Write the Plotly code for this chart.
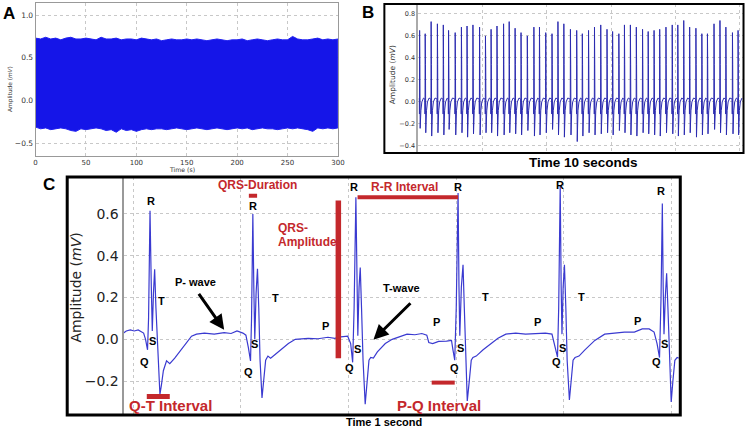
import plotly.graph_objects as go

W, H = 752, 428
def fx(px): return px / W
def fy(py): return 1 - py / H

# ---------------- Panel A : 300 s recording (envelope of the dense trace)
a_time = list(range(0, 305, 5))
a_upper = [0.73, 0.72, 0.74, 0.72, 0.73, 0.71, 0.73, 0.74, 0.72, 0.72, 0.73, 0.72, 0.71, 0.74, 0.72,
           0.72, 0.73, 0.71, 0.72, 0.72, 0.71, 0.73, 0.72, 0.71, 0.72, 0.70, 0.71, 0.72, 0.71, 0.71,
           0.72, 0.71, 0.72, 0.71, 0.70, 0.71, 0.72, 0.71, 0.70, 0.71, 0.71, 0.72, 0.70, 0.71, 0.72,
           0.71, 0.70, 0.71, 0.72, 0.71, 0.71, 0.75, 0.72, 0.71, 0.71, 0.72, 0.73, 0.71, 0.72, 0.71, 0.72]
a_lower = [-0.31, -0.33, -0.32, -0.34, -0.33, -0.32, -0.33, -0.35, -0.36, -0.33, -0.34, -0.33, -0.32,
           -0.33, -0.35, -0.34, -0.37, -0.33, -0.35, -0.34, -0.36, -0.34, -0.33, -0.34, -0.33, -0.33,
           -0.34, -0.33, -0.32, -0.33, -0.34, -0.33, -0.32, -0.33, -0.34, -0.33, -0.32, -0.33, -0.34,
           -0.33, -0.32, -0.33, -0.32, -0.34, -0.33, -0.32, -0.33, -0.33, -0.34, -0.33, -0.32, -0.33,
           -0.32, -0.33, -0.34, -0.36, -0.32, -0.33, -0.32, -0.33, -0.32]
a_xticks = [0, 50, 100, 150, 200, 250, 300]
a_yticks = [-0.5, 0.0, 0.5, 1.0]

# ---------------- Panel B : 10 s excerpt
b_r_times = [0.036, 0.210, 0.395, 0.590, 0.774, 0.938, 1.144, 1.338, 1.513, 1.697, 1.903, 2.087, 2.262,
             2.446, 2.651, 2.826, 3.010, 3.195, 3.390, 3.595, 3.769, 3.964, 4.159, 4.344, 4.528, 4.733,
             4.928, 5.103, 5.297, 5.482, 5.677, 5.872, 6.046, 6.241, 6.415, 6.600, 6.785, 6.979, 7.154,
             7.338, 7.513, 7.708, 7.903, 8.077, 8.262, 8.446, 8.641, 8.826, 9.000, 9.205, 9.390, 9.574,
             9.779, 9.954]
b_r_peaks = [0.65, 0.62, 0.73, 0.71, 0.70, 0.65, 0.63, 0.68, 0.69, 0.70, 0.68, 0.60, 0.66, 0.69, 0.71,
             0.73, 0.67, 0.63, 0.60, 0.68, 0.68, 0.63, 0.62, 0.73, 0.71, 0.66, 0.65, 0.62, 0.65, 0.68,
             0.70, 0.66, 0.64, 0.62, 0.70, 0.70, 0.68, 0.66, 0.64, 0.65, 0.66, 0.68, 0.70, 0.70, 0.74,
             0.68, 0.67, 0.62, 0.62, 0.71, 0.74, 0.68, 0.63, 0.65]
b_troughs = [-0.24, -0.28, -0.31, -0.28, -0.30, -0.25, -0.30, -0.28, -0.32, -0.29, -0.30, -0.28, -0.28,
             -0.31, -0.30, -0.28, -0.29, -0.30, -0.26, -0.31, -0.30, -0.28, -0.25, -0.30, -0.32, -0.30,
             -0.36, -0.31, -0.28, -0.30, -0.29, -0.28, -0.30, -0.26, -0.28, -0.30, -0.31, -0.28, -0.29,
             -0.30, -0.31, -0.28, -0.29, -0.31, -0.30, -0.28, -0.32, -0.30, -0.29, -0.25, -0.28, -0.30,
             -0.29, -0.30]
# one beat (offset from R peak in s, amplitude in mV)
beat_dt = [-0.025, -0.0097, -0.0060, 0.0, 0.0036, 0.0081, 0.0173, 0.0276, 0.040, 0.070, 0.095, 0.120]
beat_mv = [0.03, 0.02, -0.11, "R", 0.02, 0.34, "trough", -0.09, -0.08, 0.0, 0.03, 0.035]
b_yticks = [-0.4, -0.2, 0.0, 0.2, 0.4, 0.6, 0.8]

b_t, b_v = [], []
for rt, rp, tr in zip(b_r_times, b_r_peaks, b_troughs):
    for dt, v in zip(beat_dt, beat_mv):
        b_t.append(rt + dt)
        b_v.append(rp if v == "R" else (tr if v == "trough" else v))

# ---------------- Panel C : 1 s excerpt
c_time = [-0.018, -0.0129, -0.0055, 0.0018, 0.0092, 0.0147, 0.0193, 0.0229, 0.0266, 0.0285, 0.0312,
          0.0336, 0.0354, 0.0376, 0.0398, 0.0422, 0.0450, 0.0477, 0.0496, 0.0523, 0.0560, 0.0619,
          0.0679, 0.0771, 0.0863, 0.0986, 0.1083, 0.1175, 0.1322, 0.1505, 0.1689, 0.1818, 0.1928,
          0.2038, 0.2093, 0.2139, 0.2179, 0.2198, 0.2222, 0.2240, 0.2258, 0.2282, 0.2308, 0.2332,
          0.2356, 0.2392, 0.2423, 0.2460, 0.2502, 0.2552, 0.2625, 0.2735, 0.2882, 0.3011, 0.3249,
          0.3433, 0.3617, 0.3745, 0.3855, 0.3984, 0.4039, 0.4076, 0.4103, 0.4136, 0.4155, 0.4172,
          0.4195, 0.4217, 0.4241, 0.4269, 0.4309, 0.4342, 0.4379, 0.4412, 0.4461, 0.4535, 0.4682,
          0.4810, 0.4957, 0.5086, 0.5232, 0.5361, 0.5453, 0.5490, 0.5563, 0.5673, 0.5820, 0.5912,
          0.5939, 0.5972, 0.6000, 0.6034, 0.6051, 0.6066, 0.6095, 0.6126, 0.6150, 0.6174, 0.6205,
          0.6242, 0.6279, 0.6310, 0.6371, 0.6499, 0.6646, 0.6775, 0.6921, 0.7105, 0.7288, 0.7472,
          0.7656, 0.7778, 0.7830, 0.7881, 0.7903, 0.7931, 0.7949, 0.7964, 0.7986, 0.8010, 0.8036,
          0.8060, 0.8102, 0.8133, 0.8170, 0.8207, 0.8280, 0.8390, 0.8574, 0.8757, 0.8941, 0.9124,
          0.9308, 0.9455, 0.9583, 0.9675, 0.9730, 0.9776, 0.9804, 0.9828, 0.9844, 0.9859, 0.9883,
          0.9908, 0.9932, 0.9960, 0.9993, 1.0024, 1.0061, 1.0103, 1.0134]
c_mv = [0.03, 0.04, 0.045, 0.04, 0.045, 0.038, 0.03, 0.0, -0.05, 0.1, 0.615,
        0.25, 0.04, 0.22, 0.335, 0.15, -0.02, -0.2, -0.263, -0.22, -0.15, -0.103,
        -0.116, -0.09, -0.06, -0.015, 0.015, 0.025, 0.03, 0.025, 0.032, 0.028, 0.04,
        0.03, 0.02, -0.04, -0.103, 0.1, 0.60, 0.25, 0.0, 0.22, 0.338, 0.15,
        -0.1, -0.28, -0.2, -0.1, -0.08, -0.09, -0.075, -0.05, -0.02, 0.0, 0.005,
        0.003, 0.01, 0.005, 0.012, 0.015, -0.02, -0.11, 0.15, 0.68, 0.25, 0.017,
        0.25, 0.344, 0.15, -0.1, -0.31, -0.2, -0.1, -0.087, -0.09, -0.06, -0.02,
        0.0, 0.015, 0.025, 0.022, 0.028, 0.02, -0.015, -0.02, -0.01, -0.008, -0.005,
        -0.05, -0.10, 0.15, 0.70, 0.25, 0.017, 0.25, 0.357, 0.15, -0.1, -0.295,
        -0.2, -0.1, -0.087, -0.08, -0.05, -0.02, 0.005, 0.025, 0.03, 0.025, 0.028,
        0.03, 0.025, -0.03, -0.085, 0.15, 0.735, 0.25, 0.025, 0.25, 0.357, 0.15,
        -0.1, -0.29, -0.2, -0.1, -0.087, -0.08, -0.05, -0.005, 0.025, 0.03, 0.035,
        0.035, 0.05, 0.05, 0.035, -0.02, -0.087, 0.2, 0.65, 0.25, 0.025, 0.2,
        0.316, 0.15, -0.1, -0.30, -0.2, -0.1, -0.087, -0.09]
c_yticks = [-0.2, 0.0, 0.2, 0.4, 0.6]
c_xgrid = [0.0, 0.2, 0.4, 0.6, 0.8, 1.0]

# interval bars in panel C (time s, mV)
qrs_dur_t = [0.2148, 0.2301]; qrs_dur_v = 0.687
qrs_amp_t = 0.381; qrs_amp_v = [-0.09, 0.664]
rr_t = [0.4167, 0.6035]; rr_v = 0.680
qt_t = [0.0252, 0.0679]; qt_v = -0.273
pq_t = [0.5544, 0.5972]; pq_v = -0.207

RED = "#c4282c"
fig = go.Figure()

# Panel A
fig.add_trace(go.Scatter(x=a_time + a_time[::-1], y=a_upper + a_lower[::-1], fill="toself",
                         fillcolor="#1515e8", line=dict(color="#2020f0", width=1),
                         mode="lines", xaxis="x", yaxis="y", showlegend=False, hoverinfo="skip"))
# Panel B
fig.add_trace(go.Scatter(x=b_t, y=b_v, mode="lines", line=dict(color="#2c2cb0", width=1),
                         xaxis="x2", yaxis="y2", showlegend=False, hoverinfo="skip"))
# Panel C
fig.add_trace(go.Scatter(x=c_time, y=c_mv, mode="lines", line=dict(color="#3a3ad0", width=1.2),
                         xaxis="x3", yaxis="y3", showlegend=False, hoverinfo="skip"))

grid = dict(showgrid=True, gridcolor="#c8c8c8", griddash="dot", gridwidth=1, zeroline=False)

fig.update_layout(
    width=W, height=H, autosize=False, margin=dict(l=0, r=0, t=0, b=0),
    paper_bgcolor="white", plot_bgcolor="white",
    xaxis=dict(domain=[fx(34), fx(340)], range=[0, 300], anchor="y", tickvals=a_xticks,
               ticktext=[str(v) for v in a_xticks], tickfont=dict(family="DejaVu Sans", size=7, color="#333"),
               showline=True, mirror=True, linecolor="#999", linewidth=1, ticks="", **grid),
    yaxis=dict(domain=[fy(156), fy(2.7)], range=[-0.648, 1.144], anchor="x", tickvals=a_yticks,
               ticktext=["\u22120.5", "0.0", "0.5", "1.0"],
               tickfont=dict(family="DejaVu Sans", size=7.5, color="#333"),
               showline=True, mirror=True, linecolor="#999", linewidth=1, ticks="", **grid),
    xaxis2=dict(domain=[fx(421.5), fx(750)], range=[0, 10.108], anchor="y2", dtick=2,
                showticklabels=False, showline=False, ticks="", **grid),
    yaxis2=dict(domain=[fy(153), fy(4)], range=[-0.464, 0.89], anchor="x2", tickvals=b_yticks,
                ticktext=["\u22120.4", "\u22120.2", "0.0", "0.2", "0.4", "0.6", "0.8"],
                tickfont=dict(family="DejaVu Sans", size=6.5, color="#333"),
                showline=True, linecolor="#aaa", linewidth=2, ticks="", **grid),
    xaxis3=dict(domain=[fx(123), fx(685)], range=[-0.018, 1.0134], anchor="y3", tickvals=c_xgrid,
                showticklabels=False, showline=False, ticks="", **grid),
    yaxis3=dict(domain=[fy(415), fy(177)], range=[-0.362, 0.777], anchor="x3", tickvals=c_yticks,
                ticktext=["\u22120.2", "0.0", "0.2", "0.4", "0.6"],
                tickfont=dict(family="DejaVu Sans", size=14, color="#222"),
                showline=True, linecolor="#999", linewidth=2, ticks="", **grid),
)

shapes = [
    dict(type="rect", xref="paper", yref="paper", x0=fx(387), x1=fx(750.5), y0=fy(153), y1=fy(4),
         line=dict(color="black", width=2)),
    dict(type="rect", xref="paper", yref="paper", x0=fx(66), x1=fx(686.5), y0=fy(415), y1=fy(177),
         line=dict(color="black", width=3)),
    dict(type="line", xref="x3", yref="y3", x0=qrs_dur_t[0], x1=qrs_dur_t[1], y0=qrs_dur_v, y1=qrs_dur_v,
         line=dict(color=RED, width=4)),
    dict(type="line", xref="x3", yref="y3", x0=qrs_amp_t, x1=qrs_amp_t, y0=qrs_amp_v[0], y1=qrs_amp_v[1],
         line=dict(color=RED, width=5.5)),
    dict(type="line", xref="x3", yref="y3", x0=rr_t[0], x1=rr_t[1], y0=rr_v, y1=rr_v,
         line=dict(color=RED, width=4)),
    dict(type="line", xref="x3", yref="y3", x0=qt_t[0], x1=qt_t[1], y0=qt_v, y1=qt_v,
         line=dict(color=RED, width=5)),
    dict(type="line", xref="x3", yref="y3", x0=pq_t[0], x1=pq_t[1], y0=pq_v, y1=pq_v,
         line=dict(color=RED, width=4)),
]
fig.update_layout(shapes=shapes)

ann = []
def txt(text, px, py, size, color="black", bold=True, family="Liberation Sans, Arial", angle=0, xanchor="center"):
    ann.append(dict(text=("<b>%s</b>" % text) if bold else text, x=fx(px), y=fy(py), xref="paper", yref="paper",
                    showarrow=False, font=dict(size=size, color=color, family=family), textangle=angle,
                    xanchor=xanchor, yanchor="middle", borderpad=0))

# panel letters
txt("A", 7, 14, 17)
txt("B", 370, 12.5, 17)
txt("C", 48, 184, 17)
# axis titles
txt("Amplitude (<i>mV</i>)", 9, 89, 5.8, "#333", False, "DejaVu Sans", -90)
txt("Time (s)", 182.5, 169.5, 6.2, "#333", False, "DejaVu Sans")
txt("Amplitude (<i>mV</i>)", 395, 75, 7.5, "#333", False, "DejaVu Sans", -90)
txt("Time 10 seconds", 589, 162, 13.5)
txt("Amplitude (<i>mV</i>)", 74, 287.5, 14, "#222", False, "DejaVu Sans", -90)
txt("Time 1 second", 387, 421.5, 11)

# wave labels
for s, px, py in [("R", 150.5, 200.5), ("R", 254, 206.5), ("R", 356, 186.7), ("R", 461.5, 186.5),
                  ("R", 565, 185), ("R", 666.7, 190.7),
                  ("S", 152.3, 340.7), ("S", 256, 344.3), ("S", 360, 349), ("S", 464, 348.3),
                  ("S", 567.7, 348.3), ("S", 670.7, 344.3),
                  ("Q", 144, 362.3), ("Q", 249, 371.7), ("Q", 351.7, 368.3), ("Q", 458.3, 367.7),
                  ("Q", 561, 362.3), ("Q", 662.7, 362.3),
                  ("T", 161.7, 301), ("T", 276.7, 298.3), ("T", 489.3, 296.7), ("T", 586.7, 296.7),
                  ("P", 327.3, 325.7), ("P", 440, 321.7), ("P", 541.7, 321.7), ("P", 643.3, 320.7)]:
    txt(s, px, py, 11)

txt("P- wave", 196, 282, 11)
txt("T-wave", 404, 288.3, 11)
txt("QRS-Duration", 258.5, 185, 12, RED)
txt("QRS-", 278, 228, 12, RED, xanchor="left")
txt("Amplitude", 278, 241.7, 12, RED, xanchor="left")
txt("R-R Interval", 407.5, 187, 12, RED)
txt("Q-T Interval", 171, 405, 15, RED)
txt("P-Q Interval", 442.5, 405.5, 15, RED)

# arrows (data coordinates of panel C)
for head, tail in [((0.1689, 0.0456), (0.1199, 0.2245)), ((0.4462, -0.002), (0.5177, 0.180))]:
    ann.append(dict(x=head[0], y=head[1], ax=tail[0], ay=tail[1], xref="x3", yref="y3", axref="x3",
                    ayref="y3", text="", showarrow=True, arrowhead=2, arrowsize=1, arrowwidth=3,
                    arrowcolor="black"))

fig.update_layout(annotations=ann)
fig.write_html("out.html", config={"displayModeBar": False},
               post_script="document.body.style.margin='0';document.body.style.overflow='hidden';")
